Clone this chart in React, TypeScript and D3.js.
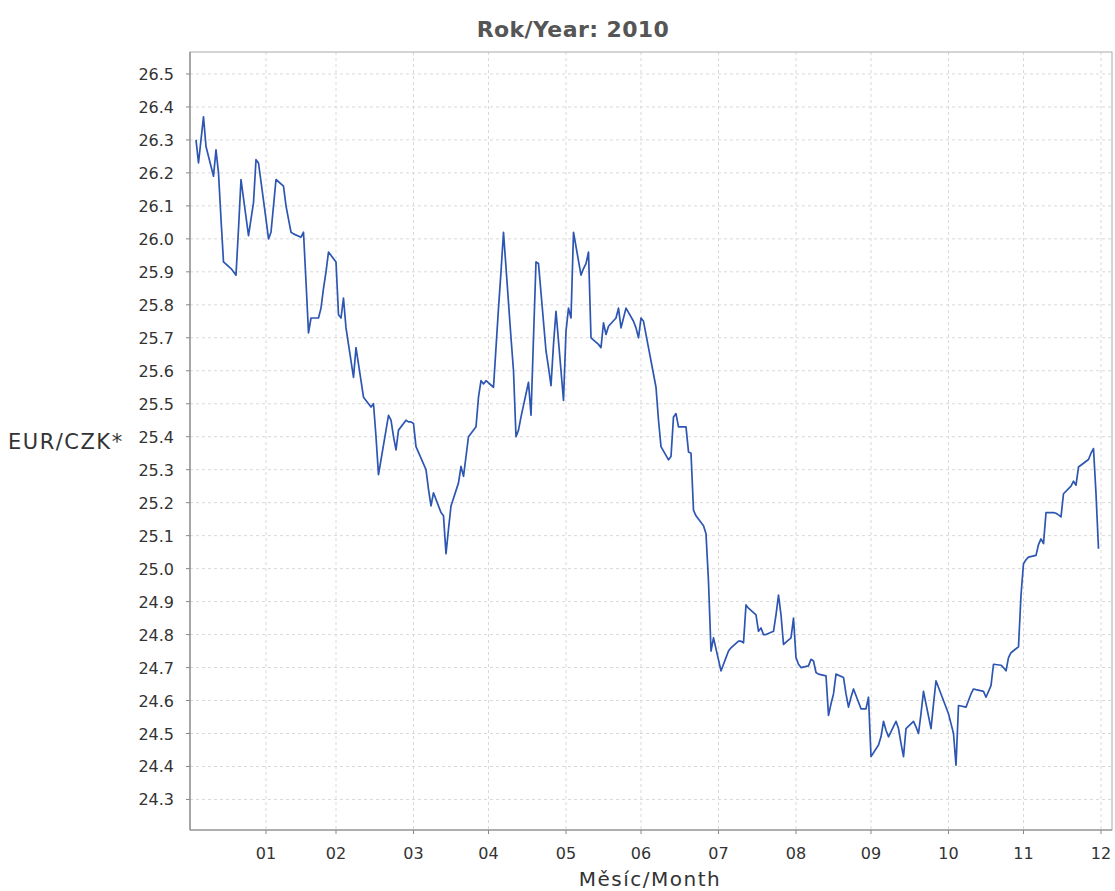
import React from "react";
import * as d3 from "d3";

// EUR/CZK daily values, one per Czech business day of each month of 2010
const rateJan = [26.30, 26.23, 26.30, 26.37, 26.28, 26.19, 26.27, 26.20, 26.06, 25.93, 25.91, 25.90, 25.89, 26.03, 26.18, 26.01, 26.06, 26.11, 26.24, 26.23];
const rateFeb = [26.06, 26.00, 26.02, 26.10, 26.18, 26.16, 26.10, 26.06, 26.02, 26.015, 26.005, 26.02, 25.87, 25.715, 25.76, 25.76, 25.79, 25.85, 25.90, 25.96];
const rateMar = [25.93, 25.77, 25.76, 25.82, 25.73, 25.58, 25.67, 25.62, 25.57, 25.52, 25.49, 25.50, 25.40, 25.285, 25.33, 25.465, 25.45, 25.40, 25.36, 25.42, 25.45, 25.445, 25.445];
const rateApr = [25.44, 25.37, 25.30, 25.24, 25.19, 25.23, 25.17, 25.16, 25.045, 25.12, 25.19, 25.26, 25.31, 25.28, 25.34, 25.40, 25.43, 25.52, 25.57, 25.56, 25.57];
const rateMay = [25.55, 25.67, 25.79, 25.90, 26.02, 25.70, 25.60, 25.40, 25.42, 25.46, 25.565, 25.465, 25.70, 25.93, 25.925, 25.66, 25.61, 25.555, 25.68, 25.78, 25.51];
const rateJun = [25.72, 25.79, 25.76, 26.02, 25.89, 25.91, 25.925, 25.96, 25.70, 25.68, 25.67, 25.745, 25.71, 25.735, 25.76, 25.79, 25.73, 25.76, 25.79, 25.75, 25.73, 25.70];
const rateJul = [25.76, 25.75, 25.55, 25.45, 25.37, 25.33, 25.34, 25.46, 25.47, 25.43, 25.43, 25.354, 25.35, 25.177, 25.16, 25.13, 25.106, 24.96, 24.75, 24.79];
const rateAug = [24.69, 24.71, 24.73, 24.75, 24.76, 24.78, 24.78, 24.775, 24.89, 24.88, 24.86, 24.81, 24.82, 24.80, 24.80, 24.81, 24.86, 24.92, 24.86, 24.77, 24.79, 24.85];
const rateSep = [24.73, 24.71, 24.70, 24.705, 24.725, 24.72, 24.685, 24.68, 24.675, 24.555, 24.59, 24.62, 24.68, 24.67, 24.62, 24.58, 24.61, 24.635, 24.575, 24.575, 24.61];
const rateOct = [24.43, 24.465, 24.49, 24.537, 24.51, 24.49, 24.537, 24.515, 24.47, 24.43, 24.515, 24.537, 24.52, 24.50, 24.56, 24.628, 24.515, 24.59, 24.66, 24.62];
const rateNov = [24.56, 24.53, 24.50, 24.404, 24.585, 24.58, 24.60, 24.62, 24.635, 24.633, 24.628, 24.61, 24.645, 24.71, 24.707, 24.70, 24.69, 24.73, 24.745, 24.763, 24.92];
const rateDec = [25.015, 25.027, 25.035, 25.04, 25.073, 25.09, 25.076, 25.17, 25.17, 25.168, 25.163, 25.157, 25.227, 25.25, 25.265, 25.253, 25.308, 25.331, 25.35, 25.364, 25.227, 25.06];

const monthlyRates = [rateJan, rateFeb, rateMar, rateApr, rateMay, rateJun, rateJul, rateAug, rateSep, rateOct, rateNov, rateDec];

// Czech public holidays on weekdays in 2010 (no fixing published)
const holidays = ["2010-01-01", "2010-04-05", "2010-07-05", "2010-07-06", "2010-09-28", "2010-10-28", "2010-11-17", "2010-12-24"];

const monthTickLabels = ["01", "02", "03", "04", "05", "06", "07", "08", "09", "10", "11", "12"];
const yTicks = [24.3, 24.4, 24.5, 24.6, 24.7, 24.8, 24.9, 25.0, 25.1, 25.2, 25.3, 25.4, 25.5, 25.6, 25.7, 25.8, 25.9, 26.0, 26.1, 26.2, 26.3, 26.4, 26.5];

const YEAR = 2010;

function businessDays(month: number): Date[] {
  const out: Date[] = [];
  const n = new Date(Date.UTC(YEAR, month + 1, 0)).getUTCDate();
  for (let d = 1; d <= n; d++) {
    const dt = new Date(Date.UTC(YEAR, month, d));
    const wd = dt.getUTCDay();
    const iso = dt.toISOString().slice(0, 10);
    if (wd === 0 || wd === 6 || holidays.includes(iso)) continue;
    out.push(dt);
  }
  return out;
}

const series: { date: Date; value: number }[] = [];
monthlyRates.forEach((vals, m) => {
  const days = businessDays(m);
  vals.forEach((v, i) => {
    if (days[i]) series.push({ date: days[i], value: v });
  });
});

const W = 1115;
const H = 891;
const left = 190;
const right = 1112;
const top = 52;
const bottom = 830;

export default function App() {
  const DAY = 86400000;
  const t0 = Date.UTC(YEAR, 0, 1);
  const x = d3
    .scaleUtc()
    .domain([new Date(t0 + 0.6 * DAY), new Date(t0 + 369.4 * DAY)])
    .range([left, right]);

  const [vmin, vmax] = d3.extent(series, (d) => d.value) as [number, number];
  const pad = (vmax - vmin) * 0.1;
  const y = d3.scaleLinear().domain([vmin - pad, vmax + pad]).range([bottom, top]);

  const monthTicks = monthTickLabels.map((lab, i) => ({
    label: lab,
    date: new Date(Date.UTC(YEAR, i + 1, 1)),
  }));

  const line = d3
    .line<{ date: Date; value: number }>()
    .x((d) => x(d.date))
    .y((d) => y(d.value));

  const font = "'DejaVu Sans', sans-serif";
  const gridColor = "#d9d9d9";

  return (
    <svg
      width={W}
      height={H}
      style={{ position: "absolute", left: 0, top: 0, background: "#fff" }}
    >
      <rect x={0} y={0} width={W} height={H} fill="#fff" />
      {/* title */}
      <text
        x={573}
        y={37}
        textAnchor="middle"
        fontFamily={font}
        fontWeight="bold"
        fontSize={22}
        letterSpacing={0.4}
        fill="#555"
      >
        Rok/Year: 2010
      </text>

      {/* grid */}
      {yTicks.map((t) => (
        <line
          key={"gy" + t}
          x1={left}
          x2={right}
          y1={y(t)}
          y2={y(t)}
          stroke={gridColor}
          strokeWidth={1}
          strokeDasharray="3,3"
        />
      ))}
      {monthTicks.map((t) => (
        <line
          key={"gx" + t.label}
          x1={x(t.date)}
          x2={x(t.date)}
          y1={top}
          y2={bottom}
          stroke={gridColor}
          strokeWidth={1}
          strokeDasharray="3,3"
        />
      ))}

      {/* plot outline */}
      <rect
        x={left}
        y={top}
        width={right - left}
        height={bottom - top}
        fill="none"
        stroke="#aaa"
        strokeWidth={1}
      />
      {/* axes lines */}
      <line x1={left} x2={left} y1={top} y2={bottom} stroke="#888" strokeWidth={1.2} />
      <line x1={left} x2={right} y1={bottom} y2={bottom} stroke="#888" strokeWidth={1.2} />

      {/* y ticks */}
      {yTicks.map((t) => (
        <g key={"ty" + t}>
          <line x1={left - 4} x2={left} y1={y(t)} y2={y(t)} stroke="#888" />
          <text
            x={left - 16}
            y={y(t) + 6}
            textAnchor="end"
            fontFamily={font}
            fontSize={16}
            fill="#333"
          >
            {t.toFixed(1)}
          </text>
        </g>
      ))}

      {/* x ticks */}
      {monthTicks.map((t) => (
        <g key={"tx" + t.label}>
          <line x1={x(t.date)} x2={x(t.date)} y1={bottom} y2={bottom + 4} stroke="#888" />
          <text
            x={x(t.date)}
            y={bottom + 29}
            textAnchor="middle"
            fontFamily={font}
            fontSize={16}
            fill="#333"
          >
            {t.label}
          </text>
        </g>
      ))}

      {/* axis labels */}
      <text x={650} y={886} textAnchor="middle" fontFamily={font} fontSize={20} letterSpacing={1.5} fill="#333">
        Měsíc/Month
      </text>
      <text x={8} y={449} textAnchor="start" fontFamily={font} fontSize={21} letterSpacing={1.5} fill="#333">
        EUR/CZK*
      </text>

      {/* data line */}
      <path d={line(series) || ""} fill="none" stroke="#2d56b2" strokeWidth={1.7} strokeLinejoin="round" />
    </svg>
  );
}
